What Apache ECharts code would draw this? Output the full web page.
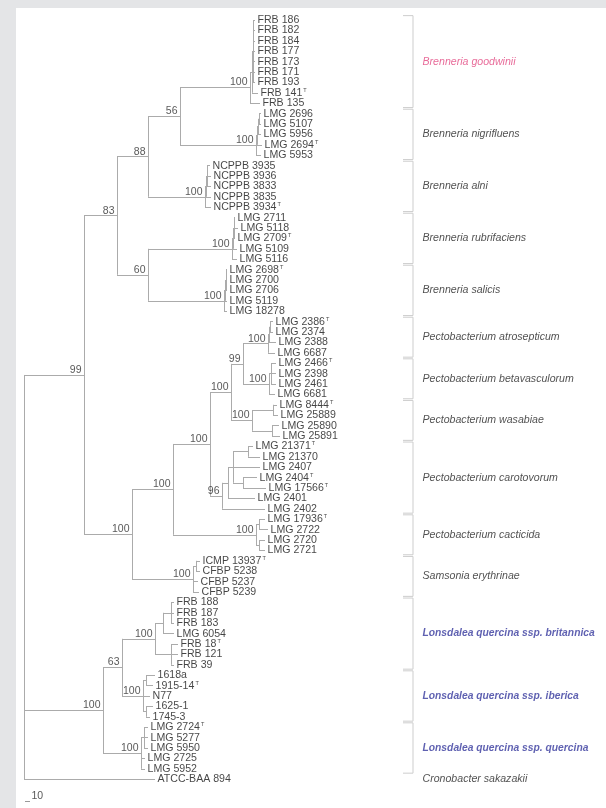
<!DOCTYPE html>
<html><head><meta charset="utf-8">
<script src="https://cdn.jsdelivr.net/npm/echarts@6/dist/echarts.min.js"></script>
<style>
html,body{margin:0;padding:0;background:#e4e5e7;}
#panel{position:absolute;left:16px;top:8px;width:590px;height:800px;background:#fff;}
#chart{position:absolute;left:0;top:0;width:606px;height:808px;}
</style></head><body>
<div id="panel"></div><div id="chart"></div>
<script>
// Leaves in display order: [name (^T = type strain), parent node, depth from root]
const leaves = [
 ['FRB 186','G2',231],['FRB 182','G2',231],['FRB 184','G2',231],['FRB 177','G2',231],
 ['FRB 173','G2',231],['FRB 171','G2',231],['FRB 193','G2',231],['FRB 141^T','G1',234],
 ['FRB 135','G0',236],
 ['LMG 2696','NG3',237],['LMG 5107','NG3',237],['LMG 5956','NG2',237],['LMG 2694^T','NG1',238],
 ['LMG 5953','NG0',237],
 ['NCPPB 3935','A2',186],['NCPPB 3936','A2',187],['NCPPB 3833','A2',187],['NCPPB 3835','A1',187],
 ['NCPPB 3934^T','A0',187],
 ['LMG 2711','R2',211],['LMG 5118','R2',214],['LMG 2709^T','R2',211],['LMG 5109','R1',213],
 ['LMG 5116','R0',213],
 ['LMG 2698^T','S2',203],['LMG 2700','S2',203],['LMG 2706','S2',203],['LMG 5119','S1',203],
 ['LMG 18278','S0',203],
 ['LMG 2386^T','AT2',249],['LMG 2374','AT2',249],['LMG 2388','AT1',252],['LMG 6687','AT0',251],
 ['LMG 2466^T','B1',252],['LMG 2398','B1',252],['LMG 2461','B1',252],['LMG 6681','B0',251],
 ['LMG 8444^T','W1',253],['LMG 25889','W1',254],['LMG 25890','W2',255],['LMG 25891','W2',256],
 ['LMG 21371^T','CA1',229],['LMG 21370','CA1',236],['LMG 2407','CRA',236],['LMG 2404^T','CA2',233],
 ['LMG 17566^T','CA2',242],['LMG 2401','CX',231],['LMG 2402','CR0',241],
 ['LMG 17936^T','C1',241],['LMG 2722','C1',244],['LMG 2720','C2',241],['LMG 2721','C2',241],
 ['ICMP 13937^T','SA1',176],['CFBP 5238','SA1',176],['CFBP 5237','SA0',174],['CFBP 5239','SA0',175],
 ['FRB 188','BU1',150],['FRB 187','BU1',150],['FRB 183','BU1',150],['LMG 6054','BU',150],
 ['FRB 18^T','BL',154],['FRB 121','BL',154],['FRB 39','BL',150],
 ['1618a','IB1',131],['1915-14^T','IB1',129],['N77','IB',126],['1625-1','IB2',129],['1745-3','IB2',126],
 ['LMG 2724^T','Q1',124],['LMG 5277','Q1',124],['LMG 5950','Q1',124],['LMG 2725','Q0',121],
 ['LMG 5952','Q0',121],
 ['ATCC-BAA 894','ROOT',131]
];
// Internal nodes: [id, parent, depth from root, bootstrap support]
const nodes = [
 ['ROOT',null,0,''],['N99','ROOT',60,'99'],['N83','N99',93,'83'],['N88','N83',124,'88'],
 ['N56','N88',156,'56'],['G0','N56',226,'100'],['G1','G0',228,''],['G2','G1',229,''],
 ['NG0','N56',232,'100'],['NG1','NG0',233,''],['NG2','NG1',234,''],['NG3','NG2',235,''],
 ['A0','N88',181,'100'],['A1','A0',182,''],['A2','A1',183,''],
 ['N60','N83',124,'60'],['R0','N60',208,'100'],['R1','R0',209,''],['R2','R1',210,''],
 ['S0','N60',200,'100'],['S1','S0',201,''],['S2','S1',202,''],
 ['PS','N99',108,'100'],['PC','PS',149,'100'],['U','PC',186,'100'],['V','U',207,'100'],
 ['AB','V',219,'99'],['AT0','AB',244,'100'],['AT1','AT0',245,''],['AT2','AT1',246,''],
 ['B0','AB',245,'100'],['B1','B0',247,''],
 ['W0','V',228,'100'],['W1','W0',249,''],['W2','W0',248,''],
 ['CR0','U',198,'96'],['CX','CR0',204,''],['CRA','CX',209,''],['CA1','CRA',224,''],['CA2','CRA',219,''],
 ['C0','PC',232,'100'],['C1','C0',235,''],['C2','C0',235,''],
 ['SA0','PS',169,'100'],['SA1','SA0',172,''],
 ['L0','ROOT',79,'100'],['L1','L0',98,'63'],['BR','L1',131,'100'],['BU','BR',139,''],
 ['BU1','BU',147,''],['BL','BR',147,''],
 ['IB','L1',119,'100'],['IB1','IB',122,''],['IB2','IB',122,''],
 ['Q0','L0',117,'100'],['Q1','Q0',120,'']
];
// Taxon groups: [label, first leaf row, last leaf row, style]
const groups = [
 ['Brenneria goodwinii',1,9,'pink'],
 ['Brenneria nigrifluens',10,14,'normal'],
 ['Brenneria alni',15,19,'normal'],
 ['Brenneria rubrifaciens',20,24,'normal'],
 ['Brenneria salicis',25,29,'normal'],
 ['Pectobacterium atrosepticum',30,33,'normal'],
 ['Pectobacterium betavasculorum',34,37,'normal'],
 ['Pectobacterium wasabiae',38,41,'normal'],
 ['Pectobacterium carotovorum',42,48,'normal'],
 ['Pectobacterium cacticida',49,52,'normal'],
 ['Samsonia erythrinae',53,56,'normal'],
 ['Lonsdalea quercina ssp. britannica',57,63,'blue'],
 ['Lonsdalea quercina ssp. iberica',64,68,'blue'],
 ['Lonsdalea quercina ssp. quercina',69,73,'blue'],
 ['Cronobacter sakazakii',74,74,'none']
];
const scaleBarLength = 5;
const scaleBarLabel = '10';

// ---- build tree geometry from the data ----
const depth = {}, kids = {};
nodes.forEach(([id,p,d]) => { depth[id]=d; kids[id]=[]; });
nodes.forEach(([id,p]) => { if (p) kids[p].push({node:id}); });
leaves.forEach(([n,p,d],i) => kids[p].push({leaf:i}));
const nodeY = {};
function yOf(c){ return c.leaf!=null ? c.leaf+1 : getY(c.node); }
function getY(id){
  if (nodeY[id]!=null) return nodeY[id];
  const ys = kids[id].map(yOf);
  nodeY[id] = (Math.min(...ys)+Math.max(...ys))/2;
  return nodeY[id];
}
nodes.forEach(([id]) => getY(id));

const treeSegs = [];
leaves.forEach(([n,p,d],i) => treeSegs.push({coords:[[depth[p],i+1],[d,i+1]]}));
nodes.forEach(([id,p,d]) => {
  if (p) treeSegs.push({coords:[[depth[p],nodeY[id]],[d,nodeY[id]]]});
  const ys = kids[id].map(yOf);
  treeSegs.push({coords:[[d,Math.min(...ys)],[d,Math.max(...ys)]]});
});

const BX = 389, TICK = 10, LX = 398;
const bracketSegs = [];
groups.forEach(([g,a,b,st]) => {
  if (st==='none') return;
  const t=a-0.42, u=b+0.42;
  bracketSegs.push({coords:[[BX-TICK,t],[BX,t],[BX,u],[BX-TICK,u]]});
});

const leafLabelData = leaves.map(([n,p,d],i) => ({value:[d,i+1], name:n}));
const supportData = nodes.filter(n=>n[3]).map(([id,p,d,s]) => ({value:[d,nodeY[id]], name:s}));
const styleColor = {pink:'#e2467f', blue:'#37399e', normal:'#262626', none:'#262626'};
const groupData = groups.map(([g,a,b,st]) => ({
  value:[LX,(a+b)/2], name:g,
  label:{color:styleColor[st], fontWeight: st==='blue'?'bold':'normal', fontSize: st==='blue'?10.3:10.6}
}));

const chart = echarts.init(document.getElementById('chart'), null, {renderer:'canvas'});
const FONT = 'Liberation Sans, Arial, sans-serif';
chart.setOption({
  animation:false,
  grid:{left:24,right:0,top:14.8,bottom:2.8,containLabel:false,outerBoundsMode:'none'},
  xAxis:{type:'value',min:0,max:582,show:false},
  yAxis:{type:'value',inverse:true,min:0.5,max:76.5,show:false},
  series:[
    {type:'lines',coordinateSystem:'cartesian2d',silent:true,data:treeSegs,
     lineStyle:{color:'#ababab',width:1,opacity:1}},
    {type:'lines',coordinateSystem:'cartesian2d',polyline:true,silent:true,data:bracketSegs,
     lineStyle:{color:'#cdcdcd',width:1,opacity:1}},
    {type:'lines',coordinateSystem:'cartesian2d',silent:true,
     data:[{coords:[[1,76.1],[1+scaleBarLength,76.1]]}],
     lineStyle:{color:'#9a9a9a',width:1,opacity:1}},
    {type:'scatter',silent:true,symbolSize:1,itemStyle:{color:'rgba(0,0,0,0)'},data:leafLabelData,
     label:{show:true,position:'right',distance:2,
       formatter:p=>{const s=p.name; return s.endsWith('^T') ? '{n|'+s.slice(0,-2)+'}{t|T}' : '{n|'+s+'}';},
       rich:{n:{fontSize:10.6,fontFamily:FONT,color:'#151515',lineHeight:11},
             t:{fontSize:5.5,fontFamily:FONT,color:'#151515',verticalAlign:'top',lineHeight:11,padding:[0,0,0,1]}}}},
    {type:'scatter',silent:true,symbolSize:1,itemStyle:{color:'rgba(0,0,0,0)'},data:supportData,
     label:{show:true,position:'left',distance:2,offset:[0,-5],formatter:p=>p.name,
       fontSize:10.5,fontFamily:FONT,color:'#2e2e2e'}},
    {type:'scatter',silent:true,symbolSize:1,itemStyle:{color:'rgba(0,0,0,0)'},data:groupData,
     label:{show:true,position:'right',distance:0,formatter:p=>p.name,
       fontStyle:'italic',fontFamily:FONT,fontSize:10.6,color:'#262626'}},
    {type:'scatter',silent:true,symbolSize:1,itemStyle:{color:'rgba(0,0,0,0)'},
     data:[{value:[1+scaleBarLength,75.6],name:scaleBarLabel}],
     label:{show:true,position:'right',distance:1,formatter:p=>p.name,
       fontSize:10.5,fontFamily:FONT,color:'#2e2e2e'}}
  ]
});
</script></body></html>
